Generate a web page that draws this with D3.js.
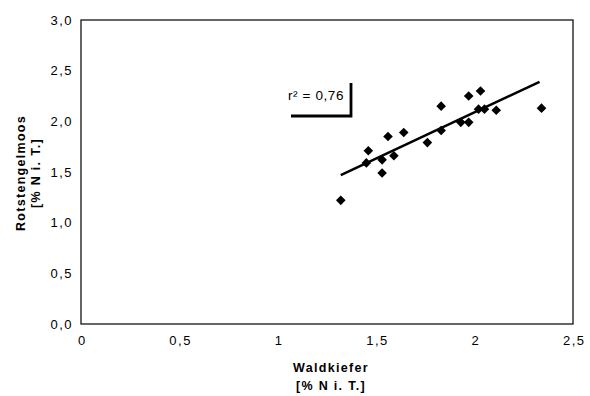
<!DOCTYPE html>
<html>
<head>
<meta charset="utf-8">
<script src="https://cdn.jsdelivr.net/npm/d3@7"></script>
<style>
  body { margin: 0; background: #fff; }
  svg text { font-family: "Liberation Sans", Arial, sans-serif; fill: #000; }
  .tick text { font-size: 13px; letter-spacing: 1.5px; }
  .label { font-size: 12.5px; font-weight: bold; letter-spacing: 1.3px; }
</style>
</head>
<body>
<svg width="590" height="396"></svg>
<script>
// Waldkiefer vs Rotstengelmoos (% N i. T.)
const waldkiefer = [1.32, 1.45, 1.46, 1.53, 1.53, 1.56, 1.59, 1.64, 1.76, 1.83,
                    1.83, 1.93, 1.97, 1.97, 2.02, 2.03, 2.05, 2.11, 2.34];
const rotstengelmoos = [1.22, 1.59, 1.71, 1.62, 1.49, 1.85, 1.66, 1.89, 1.79, 2.15,
                        1.91, 1.99, 2.25, 1.99, 2.12, 2.30, 2.12, 2.11, 2.13];
const trendX = [1.32, 2.33];
const trendY = [1.47, 2.39];
const xTicks = [0, 0.5, 1, 1.5, 2, 2.5];
const yTicks = [0, 0.5, 1, 1.5, 2, 2.5, 3];
const rText = 'r\u00B2 = 0,76';

const svg = d3.select('svg');
const pLeft = 81, pTop = 20, pRight = 573, pBottom = 324;

const x = d3.scaleLinear().domain([0, 2.5]).range([pLeft, pRight]);
const y = d3.scaleLinear().domain([0, 3]).range([pBottom, pTop]);

const comma = s => s.replace('.', ',');

// plot frame
svg.append('rect')
  .attr('x', pLeft).attr('y', pTop)
  .attr('width', pRight - pLeft).attr('height', pBottom - pTop)
  .attr('fill', 'none').attr('stroke', '#000').attr('stroke-width', 1.2);

svg.append('g')
  .attr('transform', `translate(0, ${pBottom})`)
  .call(d3.axisBottom(x).tickValues(xTicks).tickSize(0).tickPadding(12)
    .tickFormat(d => comma(String(d))))
  .call(g => g.select('.domain').remove())
  .call(g => g.selectAll('.tick text').attr('dx', '0.75px'));

svg.append('g')
  .attr('transform', `translate(${pLeft}, 0)`)
  .call(d3.axisLeft(y).tickValues(yTicks).tickSize(0).tickPadding(8)
    .tickFormat(d => comma(d.toFixed(1))))
  .call(g => g.select('.domain').remove());

// trend line
svg.append('line')
  .attr('x1', x(trendX[0])).attr('y1', y(trendY[0]))
  .attr('x2', x(trendX[1])).attr('y2', y(trendY[1]))
  .attr('stroke', '#000').attr('stroke-width', 2.5);

// points
const diamond = 'M0,-4.8L4.8,0L0,4.8L-4.8,0Z';
svg.append('g')
  .selectAll('path')
  .data(waldkiefer)
  .enter()
  .append('path')
  .attr('d', diamond)
  .attr('transform', (d, i) => `translate(${x(d)}, ${y(rotstengelmoos[i])})`)
  .attr('fill', '#000');

// r2 box
const rg = svg.append('g');
rg.append('text')
  .attr('x', 288).attr('y', 100)
  .style('font-size', '13.5px')
  .style('letter-spacing', '0.6px')
  .text(rText);
rg.append('path')
  .attr('d', 'M351,83L351,116L291,116')
  .attr('fill', 'none').attr('stroke', '#000').attr('stroke-width', 2.8);

// axis titles
svg.append('text')
  .attr('class', 'label')
  .attr('x', (pLeft + pRight) / 2 + 4).attr('y', 372)
  .attr('text-anchor', 'middle')
  .text('Waldkiefer');
svg.append('text')
  .attr('class', 'label')
  .attr('x', (pLeft + pRight) / 2 + 4).attr('y', 390)
  .attr('text-anchor', 'middle')
  .text('[% N i. T.]');

svg.append('text')
  .attr('class', 'label')
  .attr('transform', 'translate(25, 173) rotate(-90)')
  .attr('text-anchor', 'middle')
  .text('Rotstengelmoos');
svg.append('text')
  .attr('class', 'label')
  .attr('transform', 'translate(40, 173) rotate(-90)')
  .attr('text-anchor', 'middle')
  .text('[% N i. T.]');
</script>
</body>
</html>
